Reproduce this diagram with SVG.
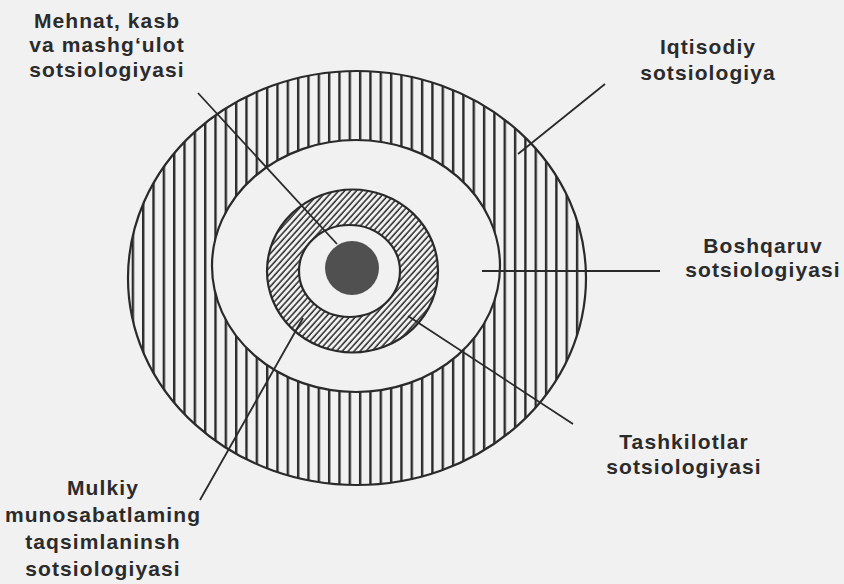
<svg xmlns="http://www.w3.org/2000/svg" width="844" height="584" viewBox="0 0 844 584">
  <defs>
    <pattern id="vhatch" patternUnits="userSpaceOnUse" x="142" y="0" width="10.33" height="20">
      <line x1="1.2" y1="0" x2="1.2" y2="20" stroke="#2a2a2a" stroke-width="2.4"/>
    </pattern>
    <pattern id="dhatch" patternUnits="userSpaceOnUse" width="4.4" height="10" patternTransform="rotate(42)">
      <line x1="1" y1="0" x2="1" y2="10" stroke="#2a2a2a" stroke-width="1.5"/>
    </pattern>
    <style>
      .lbl { font-family: "Liberation Sans", Arial, sans-serif; font-weight: bold; font-size: 21px; letter-spacing: 1.1px; fill: #2b2b2b; text-anchor: middle; }
      .edge { fill: none; stroke: #2a2a2a; stroke-width: 2.2; }
      .conn { stroke: #2a2a2a; stroke-width: 1.8; fill: none; }
    </style>
  </defs>
  <rect width="844" height="584" fill="#f1f1f1"/>

  <g id="ring-outer">
    <path d="M128,278 a229,207 0 1,0 458,0 a229,207 0 1,0 -458,0 Z M212,266 a144,126 0 1,0 288,0 a144,126 0 1,0 -288,0 Z" fill="url(#vhatch)" fill-rule="evenodd"/>
    <ellipse class="edge" cx="357" cy="278" rx="229" ry="207"/>
    <ellipse class="edge" cx="356" cy="266" rx="144" ry="126"/>
  </g>

  <g id="ring-inner">
    <path d="M267,271 a85.5,81.5 0 1,0 171,0 a85.5,81.5 0 1,0 -171,0 Z M299,271 a50.5,46 0 1,0 101,0 a50.5,46 0 1,0 -101,0 Z" fill="url(#dhatch)" fill-rule="evenodd"/>
    <ellipse class="edge" cx="352.5" cy="271" rx="85.5" ry="81.5"/>
    <ellipse class="edge" cx="349.5" cy="271" rx="50.5" ry="46"/>
  </g>

  <g id="core">
    <circle cx="352" cy="268" r="27" fill="#505050"/>
  </g>

  <g id="connectors">
    <line class="conn" x1="198" y1="93" x2="337" y2="244"/>
    <line class="conn" x1="518" y1="154" x2="605" y2="84"/>
    <line class="conn" x1="482" y1="271" x2="660" y2="271"/>
    <line class="conn" x1="408" y1="316" x2="573" y2="424"/>
    <line class="conn" x1="303" y1="318" x2="200" y2="500"/>
  </g>

  <g id="label-mehnat">
    <text class="lbl" x="107" y="28">Mehnat, kasb</text>
    <text class="lbl" x="107" y="52">va mashg‘ulot</text>
    <text class="lbl" x="107" y="77">sotsiologiyasi</text>
  </g>
  <g id="label-iqtisodiy">
    <text class="lbl" x="708" y="54">Iqtisodiy</text>
    <text class="lbl" x="708" y="80">sotsiologiya</text>
  </g>
  <g id="label-boshqaruv">
    <text class="lbl" x="763" y="253">Boshqaruv</text>
    <text class="lbl" x="763" y="277">sotsiologiyasi</text>
  </g>
  <g id="label-tashkilotlar">
    <text class="lbl" x="684" y="449">Tashkilotlar</text>
    <text class="lbl" x="684" y="474">sotsiologiyasi</text>
  </g>
  <g id="label-mulkiy">
    <text class="lbl" x="103" y="495">Mulkiy</text>
    <text class="lbl" x="103" y="522">munosabatlaming</text>
    <text class="lbl" x="103" y="549">taqsimlaninsh</text>
    <text class="lbl" x="103" y="576">sotsiologiyasi</text>
  </g>
</svg>
